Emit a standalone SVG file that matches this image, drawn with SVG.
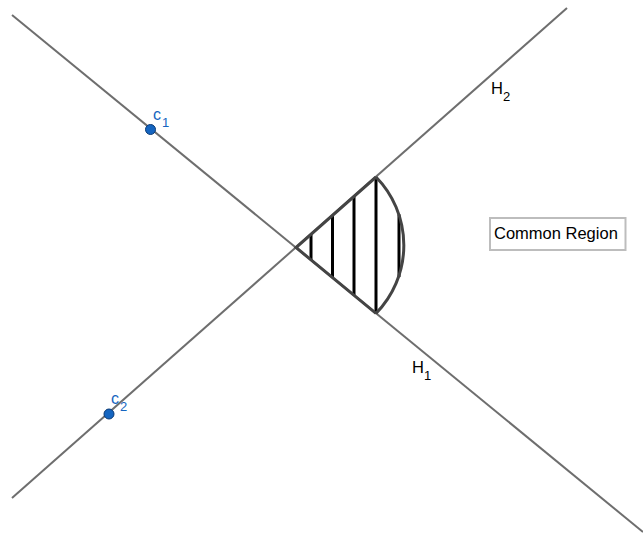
<svg xmlns="http://www.w3.org/2000/svg" width="643" height="537" viewBox="0 0 643 537">
  <style>
    .line { stroke: #6e6e6e; stroke-width: 2; fill: none; }
    .edge { stroke: #444444; stroke-width: 3; fill: none; }
    .hatch { stroke: #000000; stroke-width: 3; }
    .pt { fill: #1565c0; stroke: #0b3a75; stroke-width: 1; }
    .plbl { font-family: "Liberation Sans", Arial, sans-serif; fill: #1565c0; }
    .lbl { font-family: "Liberation Sans", Arial, sans-serif; fill: #000000; }
  </style>
  <rect width="643" height="537" fill="#ffffff"/>
  <g id="connectors">
    <line id="H1-line" class="line" x1="12" y1="15" x2="643" y2="532"/>
    <line id="H2-line" class="line" x1="12" y1="498" x2="567" y2="8"/>
  </g>
  <g id="common-region-shape">
    <g id="hatching">
      <line class="hatch" x1="311" y1="234.3" x2="311" y2="260"/>
      <line class="hatch" x1="332.5" y1="215.3" x2="332.5" y2="277.6"/>
      <line class="hatch" x1="354" y1="196.4" x2="354" y2="295.3"/>
      <line class="hatch" x1="376" y1="177" x2="376" y2="313.4"/>
      <line class="hatch" x1="399" y1="214.3" x2="399" y2="277.1"/>
    </g>
    <path class="edge" d="M376,177 L296,247.5 L376,313.4"/>
    <path class="edge" d="M376,177 A97.5,97.5 0 0 1 376,313.4"/>
  </g>
  <g id="c1">
    <circle class="pt" cx="150.5" cy="129.5" r="5"/>
    <text class="plbl" x="153" y="120" font-size="16">c</text>
    <text class="plbl" x="162" y="127" font-size="13">1</text>
  </g>
  <g id="c2">
    <circle class="pt" cx="109" cy="414" r="5"/>
    <text class="plbl" x="111" y="404" font-size="16">c</text>
    <text class="plbl" x="120" y="411" font-size="13">2</text>
  </g>
  <g id="H2">
    <text class="lbl" x="491" y="94" font-size="16.5">H</text>
    <text class="lbl" x="503" y="101" font-size="13">2</text>
  </g>
  <g id="H1">
    <text class="lbl" x="412" y="373" font-size="16.5">H</text>
    <text class="lbl" x="424" y="380" font-size="13">1</text>
  </g>
  <g id="common-region-label">
    <rect x="490" y="218" width="135.5" height="32" fill="#ffffff" stroke="#bdbdbd" stroke-width="2"/>
    <text class="lbl" x="494" y="239" font-size="16.5">Common Region</text>
  </g>
</svg>
